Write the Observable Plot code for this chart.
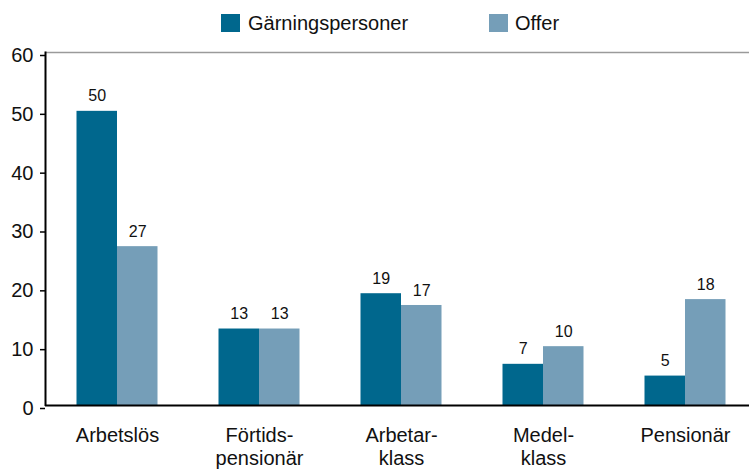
<!DOCTYPE html>
<html>
<head>
<meta charset="utf-8">
<script src="https://cdn.jsdelivr.net/npm/d3@7"></script>
<script src="https://cdn.jsdelivr.net/npm/@observablehq/plot@0.6"></script>
<style>
  html, body { margin: 0; padding: 0; background: #fff; }
  #wrap { position: relative; width: 749px; height: 469px; font-family: "Liberation Sans", Arial, Helvetica, sans-serif; }
  #legend { position: absolute; left: 0; top: 0; width: 749px; height: 44px; }
  .sw { position: absolute; width: 19px; height: 18px; top: 14px; }
  .lt { position: absolute; top: 11px; font-size: 20px; line-height: 24px; color: #111; }
</style>
</head>
<body>
<div id="wrap">
  <div id="chart"></div>
  <div id="legend"></div>
</div>
<script>
const categories = ["Arbetslös", "Förtids-\npensionär", "Arbetar-\nklass", "Medel-\nklass", "Pensionär"];
const seriesNames = ["Gärningspersoner", "Offer"];
const garningspersoner = [50, 13, 19, 7, 5];
const offer = [27, 13, 17, 10, 18];
const yTicks = [0, 10, 20, 30, 40, 50, 60];
const colors = ["#00678d", "#759eb8"];

const dataG = categories.map((c, i) => ({cat: c, value: garningspersoner[i]}));
const dataO = categories.map((c, i) => ({cat: c, value: offer[i]}));

const font = "'Liberation Sans', Arial, Helvetica, sans-serif";

const chart = Plot.plot({
  width: 749,
  height: 469,
  marginTop: 52,
  marginBottom: 64,
  marginLeft: 45,
  marginRight: 0,
  style: {fontFamily: font, background: "white", color: "#111"},
  x: {domain: categories, range: [46, 756.5], padding: 0, label: null},
  y: {domain: [0, 60], label: null},
  marks: [
    Plot.ruleY([60], {stroke: "#9a9a9a", strokeWidth: 1.5}),
    Plot.barY(dataG, {x: "cat", y: "value", fill: colors[0], insetLeft: 30.5, insetRight: 71}),
    Plot.barY(dataO, {x: "cat", y: "value", fill: colors[1], insetLeft: 71, insetRight: 30.5}),
    Plot.text(dataG, {x: "cat", y: "value", text: d => String(d.value), dx: -20.25, dy: -15, fontSize: 16, lineAnchor: "middle", fill: "#111"}),
    Plot.text(dataO, {x: "cat", y: "value", text: d => String(d.value), dx: 20.25, dy: -15, fontSize: 16, lineAnchor: "middle", fill: "#111"}),
    Plot.ruleY([0], {stroke: "#000", strokeWidth: 2}),
    Plot.axisY({ticks: yTicks, tickSize: 5, tickPadding: 7, fontSize: 20, dy: 3, label: null, stroke: "#000", strokeWidth: 1.5, fill: "#111"}),
    Plot.axisX({tickSize: 0, tickPadding: 21, fontSize: 20, lineHeight: 1.12, label: null, fill: "#111"})
  ]
});

// vertical axis line positioned via the y scale
const ys = chart.scale("y");
d3.select(chart).append("line")
  .attr("x1", 45.5).attr("x2", 45.5)
  .attr("y1", ys.apply(60) - 0.5).attr("y2", ys.apply(0) + 1)
  .attr("stroke", "#000").attr("stroke-width", 2);

document.getElementById("chart").appendChild(chart);

const legend = document.getElementById("legend");
const legendPos = [[221, 248], [489, 515]];
seriesNames.forEach((name, i) => {
  const sw = document.createElement("div");
  sw.className = "sw";
  sw.style.left = legendPos[i][0] + "px";
  sw.style.background = colors[i];
  legend.appendChild(sw);
  const t = document.createElement("div");
  t.className = "lt";
  t.style.left = legendPos[i][1] + "px";
  t.textContent = name;
  legend.appendChild(t);
});
</script>
</body>
</html>
